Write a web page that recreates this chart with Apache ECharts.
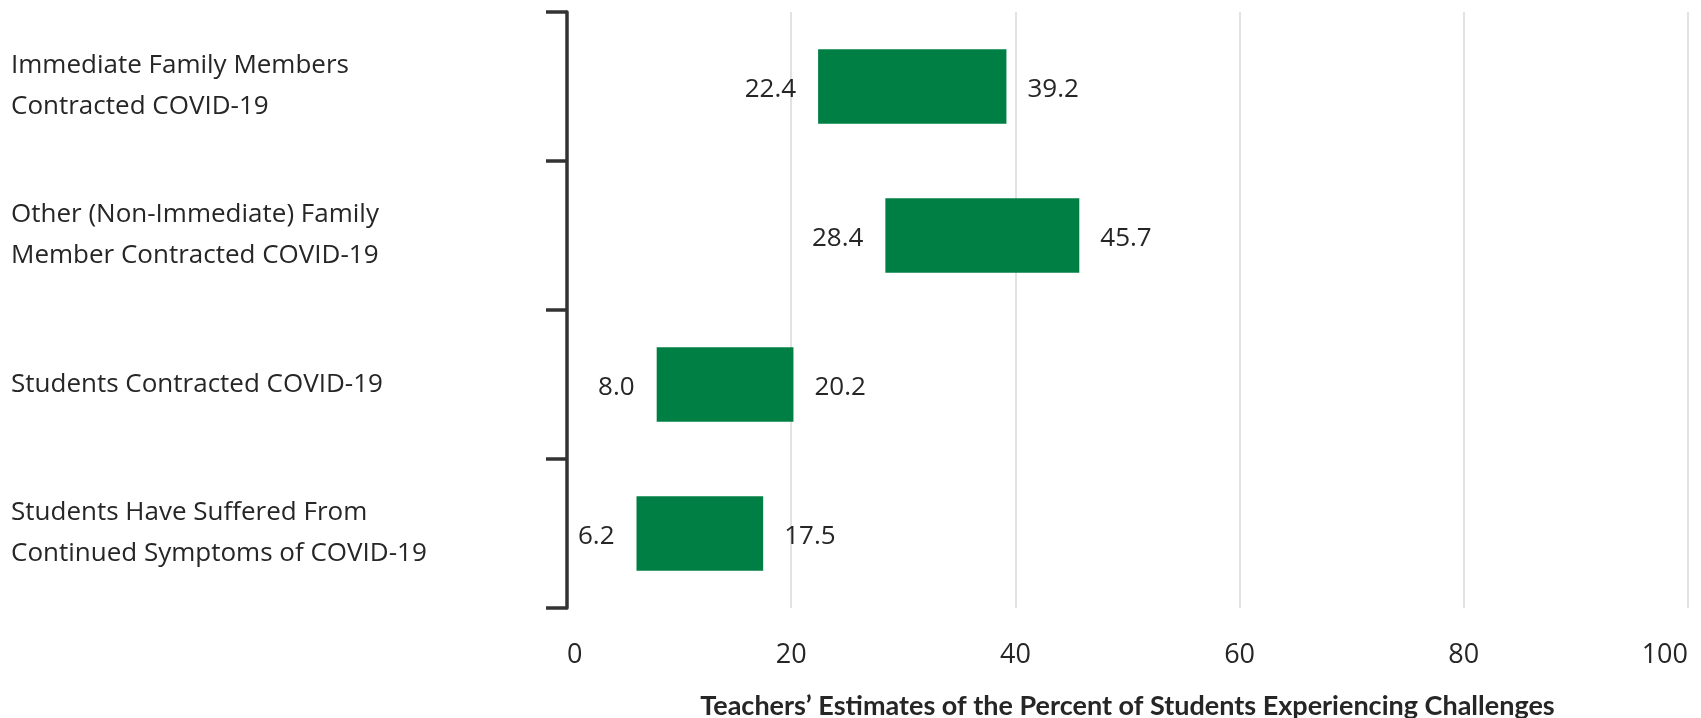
<!DOCTYPE html>
<html>
<head>
<meta charset="utf-8">
<script src="https://cdn.jsdelivr.net/npm/echarts@6/dist/echarts.min.js"></script>
<style>
  html, body { margin: 0; padding: 0; background: #fff; }
  #chart { width: 1701px; height: 718px; }
</style>
</head>
<body>
<div id="chart"></div>
<script>
// Challenge categories, top to bottom
const categories = [
  'Immediate Family Members\nContracted COVID-19',
  'Other (Non-Immediate) Family\nMember Contracted COVID-19',
  'Students Contracted COVID-19',
  'Students Have Suffered From\nContinued Symptoms of COVID-19'
];
// Range of teachers' estimates (percent of students)
const lows = [22.4, 28.4, 8.0, 6.2];
const highs = [39.2, 45.7, 20.2, 17.5];
const xTicks = [0, 20, 40, 60, 80, 100];
const axisTitle = 'Teachers\u2019 Estimates of the Percent of Students Experiencing Challenges';

const FONT = '"Open Sans", Lato, sans-serif';
const BOLD_FONT = 'Lato, "Open Sans", sans-serif';
const TEXT = '#262626';
const GREEN = '#007f45';

const rangeData = categories.map((c, i) => [i, lows[i], highs[i]]);

const chart = echarts.init(document.getElementById('chart'));
chart.setOption({
  animation: false,
  backgroundColor: '#ffffff',
  grid: { left: 567, right: 13, top: 12, bottom: 110, outerBoundsMode: 'none', containLabel: false },
  xAxis: {
    type: 'value',
    min: xTicks[0],
    max: xTicks[xTicks.length - 1],
    interval: xTicks[1] - xTicks[0],
    axisLine: { show: false },
    axisTick: { show: false },
    splitLine: { show: true, lineStyle: { color: '#d9d9d9', width: 1.5 } },
    axisLabel: {
      margin: 34,
      fontFamily: FONT,
      fontSize: 27,
      color: TEXT,
      alignMinLabel: 'left',
      alignMaxLabel: 'right'
    },
    name: axisTitle,
    nameLocation: 'middle',
    nameGap: 85,
    nameTextStyle: {
      fontFamily: BOLD_FONT,
      fontSize: 27,
      fontWeight: 'bold',
      color: TEXT
    }
  },
  yAxis: {
    type: 'category',
    data: categories,
    inverse: true,
    offset: 34,
    axisLine: { show: true, lineStyle: { color: '#333333', width: 3.5 } },
    axisTick: { show: true, length: 21, lineStyle: { color: '#333333', width: 3.5 } },
    splitLine: { show: false },
    axisLabel: {
      align: 'left',
      margin: 522,
      padding: [9, 0, 0, 0],
      fontFamily: FONT,
      fontSize: 26,
      lineHeight: 41,
      color: TEXT
    }
  },
  series: [{
    type: 'custom',
    data: rangeData,
    encode: { x: [1, 2], y: 0 },
    renderItem: function (params, api) {
      const cat = api.value(0);
      const lo = api.value(1);
      const hi = api.value(2);
      const a = api.coord([lo, cat]);
      const b = api.coord([hi, cat]);
      const h = api.size([0, 1])[1] * 0.5;
      const labelFont = '26px ' + FONT;
      return {
        type: 'group',
        children: [
          {
            type: 'rect',
            shape: { x: a[0], y: a[1] - h / 2, width: b[0] - a[0], height: h },
            style: { fill: GREEN }
          },
          {
            type: 'text',
            x: a[0] - 22, y: a[1] + 3,
            style: { text: lo.toFixed(1), align: 'right', verticalAlign: 'middle', font: labelFont, fill: TEXT }
          },
          {
            type: 'text',
            x: b[0] + 21, y: a[1] + 3,
            style: { text: hi.toFixed(1), align: 'left', verticalAlign: 'middle', font: labelFont, fill: TEXT }
          }
        ]
      };
    }
  }]
});
</script>
</body>
</html>
